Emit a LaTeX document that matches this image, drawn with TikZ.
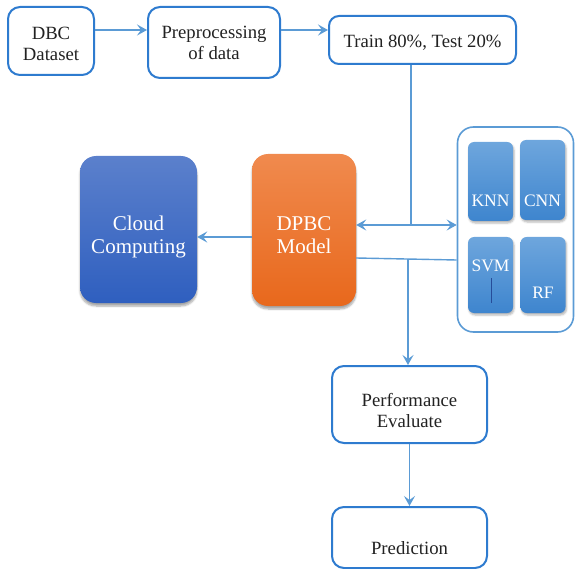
\documentclass[tikz,border=0pt]{standalone}
\usepackage{fontspec}
\setmainfont{Liberation Serif}
\newfontfamily\diagserif{Liberation Serif}
\usetikzlibrary{arrows.meta,shadows.blur}
\definecolor{edgeblue}{HTML}{2E7BCF}
\definecolor{linkblue}{HTML}{5B9BD5}
\definecolor{cloudtop}{HTML}{5B80CC}
\definecolor{cloudbot}{HTML}{2F5FBF}
\definecolor{orgtop}{HTML}{F08A4E}
\definecolor{orgbot}{HTML}{E8681C}
\definecolor{mtop}{HTML}{6EA6DD}
\definecolor{mbot}{HTML}{3E85CE}
\definecolor{txtgray}{HTML}{222222}
\tikzset{
  whitebox/.style={draw=edgeblue, line width=2pt, rounded corners=12pt, fill=white, inner sep=0pt},
  fillbox/.style={rounded corners=16pt, inner sep=0pt, draw=none,
     blur shadow={shadow blur steps=6, shadow xshift=0pt, shadow yshift=-3pt, shadow opacity=35}},
  modelbox/.style={rounded corners=6pt, inner sep=0pt, draw=none, top color=mtop, bottom color=mbot,
     blur shadow={shadow blur steps=4, shadow xshift=1pt, shadow yshift=-2pt, shadow opacity=30}},
  btext/.style={align=center, text=txtgray, font=\diagserif\fontsize{18.7}{21}\selectfont, inner sep=0pt},
  wtext/.style={align=center, text=white, font=\diagserif\fontsize{21}{23}\selectfont, inner sep=0pt},
  mtext/.style={text=white, font=\diagserif\fontsize{17.5}{20}\selectfont, inner sep=0pt},
  conn/.style={draw=linkblue, line width=1.4pt},
  arr/.style={conn, -{Stealth[length=10pt, width=11pt, inset=4pt]}},
  darr/.style={conn, {Stealth[length=10pt, width=11pt, inset=4pt]}-{Stealth[length=10pt, width=11pt, inset=4pt]}},
}
\begin{document}
\begin{tikzpicture}[x=1pt, y=-1pt]
\useasboundingbox (0,0) rectangle (575,569);
% top row
\node[whitebox, minimum width=86pt, minimum height=68pt] (dbc) at (51,41) {};
\node[btext] (dbct) at (51,43.5) {DBC\\Dataset};
\node[whitebox, minimum width=132pt, minimum height=71pt] (pre) at (214,42.5) {};
\node[btext] (pret) at (214,42.5) {Preprocessing\\of data};
\node[whitebox, minimum width=187pt, minimum height=48pt, rounded corners=10pt] (train) at (422.5,40) {};
\node[btext] (traint) at (422.5,43) {Train 80\%, Test 20\%};
% middle row
\node[fillbox, top color=cloudtop, bottom color=cloudbot, minimum width=117pt, minimum height=147pt] (cloud) at (138.5,229.5) {};
\node[wtext] (cloudt) at (138.5,236.5) {Cloud\\Computing};
\node[fillbox, top color=orgtop, bottom color=orgbot, minimum width=104pt, minimum height=152pt] (dpbc) at (304,230) {};
\node[wtext] (dpbct) at (304,235.5) {DPBC\\Model};
% models container
\node[draw=linkblue, line width=1.6pt, rounded corners=16pt, minimum width=116pt, minimum height=205pt, inner sep=0pt] (cont) at (515.5,229.5) {};
\node[modelbox, minimum width=45pt, minimum height=79pt] (knn) at (490.5,181.5) {};
\node[modelbox, minimum width=45pt, minimum height=80pt] (cnn) at (542.5,180) {};
\node[modelbox, minimum width=45pt, minimum height=76pt] (svm) at (490.5,275) {};
\node[modelbox, minimum width=45pt, minimum height=76pt] (rf) at (543,275) {};
\node[mtext] (knnt) at (490.5,201) {KNN};
\node[mtext] (cnnt) at (542.5,201) {CNN};
\node[mtext] (svmt) at (490.5,266) {SVM};
\node[mtext] (rft) at (543,293) {RF};
\draw[draw=cloudbot!80!black, line width=0.6pt] (491,278) -- (491,303);
% bottom
\node[whitebox, minimum width=155pt, minimum height=77pt] (perf) at (409.5,404.5) {};
\node[btext] (perft) at (409.5,410.5) {Performance\\Evaluate};
\node[whitebox, minimum width=155pt, minimum height=61pt] (pred) at (409.5,537.5) {};
\node[btext] (predt) at (409.5,548) {Prediction};
% connectors
\coordinate (j1) at (411,225);
\coordinate (j2) at (408,258.5);
\draw[arr] (dbc.east |- 0,30) -- (pre.west |- 0,30);
\draw[arr] (pre.east |- 0,30) -- (train.west |- 0,30);
\draw[conn] (j1 |- train.south) -- (j1);
\draw[darr] (dpbc.east |- j1) -- (cont.west |- j1);
\draw[arr] (dpbc.west |- 0,237) -- (cloud.east |- 0,237);
\draw[conn] (dpbc.east |- 0,258) -- (cont.west |- 0,260);
\draw[arr] (j2) -- (j2 |- perf.north);
\draw[arr] (perf.south) -- (pred.north);
\end{tikzpicture}
\end{document}
